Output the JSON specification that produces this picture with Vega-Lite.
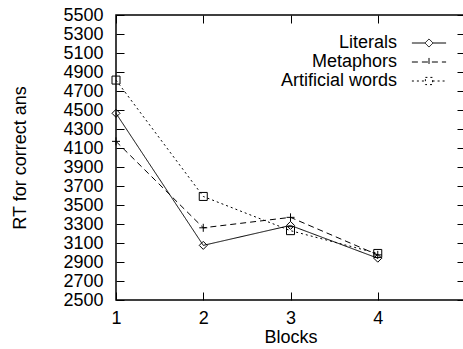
{
  "$schema": "https://vega.github.io/schema/vega-lite/v6.json",
  "width": 349,
  "height": 285,
  "autosize": {"type": "none"},
  "padding": {"left": 116, "top": 15, "right": 0, "bottom": 49},
  "config": {
    "font": "Liberation Sans",
    "view": {"stroke": "black", "strokeWidth": 1.5},
    "axis": {
      "labelFont": "Liberation Sans",
      "labelFontSize": 18,
      "labelColor": "black",
      "titleFont": "Liberation Sans",
      "titleFontSize": 18,
      "titleFontWeight": "normal",
      "titleColor": "black",
      "tickColor": "black",
      "tickSize": -8,
      "tickWidth": 1,
      "domain": false,
      "grid": false
    },
    "legend": {
      "labelFont": "Liberation Sans",
      "labelFontSize": 18,
      "labelColor": "black"
    }
  },
  "data": {
    "values": [
      {"series": "Literals", "block": 1, "rt": 4465},
      {"series": "Literals", "block": 2, "rt": 3075},
      {"series": "Literals", "block": 3, "rt": 3285},
      {"series": "Literals", "block": 4, "rt": 2940},
      {"series": "Metaphors", "block": 1, "rt": 4170},
      {"series": "Metaphors", "block": 2, "rt": 3260},
      {"series": "Metaphors", "block": 3, "rt": 3370},
      {"series": "Metaphors", "block": 4, "rt": 2975},
      {"series": "Artificial words", "block": 1, "rt": 4815},
      {"series": "Artificial words", "block": 2, "rt": 3590},
      {"series": "Artificial words", "block": 3, "rt": 3230},
      {"series": "Artificial words", "block": 4, "rt": 2990}
    ]
  },
  "encoding": {
    "x": {"field": "block", "type": "quantitative", "scale": {"domain": [1, 5], "nice": false, "zero": false}},
    "y": {"field": "rt", "type": "quantitative", "scale": {"domain": [2500, 5500], "nice": false, "zero": false}}
  },
  "layer": [
    {
      "mark": {"type": "line", "color": "black", "strokeWidth": 1},
      "encoding": {
        "x": {
          "field": "block", "type": "quantitative",
          "axis": {"orient": "bottom", "values": [1, 2, 3, 4], "format": "d", "labelPadding": 17, "title": "Blocks", "titlePadding": 1, "labelFlush": false}
        },
        "y": {
          "field": "rt", "type": "quantitative",
          "axis": {"orient": "left", "values": [2500, 2700, 2900, 3100, 3300, 3500, 3700, 3900, 4100, 4300, 4500, 4700, 4900, 5100, 5300, 5500], "format": "d", "labelPadding": 21, "title": "RT for correct ans", "titlePadding": 33, "labelFlush": false}
        },
        "strokeDash": {
          "field": "series", "type": "nominal",
          "scale": {"domain": ["Literals", "Metaphors", "Artificial words"], "range": [[1, 0], [6, 4], [2, 3]]},
          "legend": {
            "orient": "none",
            "legendX": 200,
            "legendY": 19,
            "title": null,
            "padding": 0,
            "labelAlign": "right",
            "labelOffset": -41,
            "symbolOffset": 104,
            "symbolSize": 81,
            "symbolStrokeWidth": 1,
            "symbolStrokeColor": "black",
            "symbolFillColor": "transparent",
            "rowPadding": 1,
            "encode": {
              "symbols": {
                "update": {
                  "shape": {"signal": "datum.value === 'Literals' ? 'M-3.8,0L-0.9,0M0.9,0L3.8,0M0,-0.9L0.9,0L0,0.9L-0.9,0Z' : datum.value === 'Metaphors' ? 'M-3.8,0L3.8,0M0,-0.9L0,0.9' : 'M-3.8,0L-0.8,0M0.8,0L3.8,0M-0.8,-0.8L0.8,-0.8L0.8,0.8L-0.8,0.8Z'"},
                  "fill": {"value": "transparent"},
                  "stroke": {"value": "black"}
                }
              }
            }
          }
        }
      }
    },
    {
      "transform": [{"filter": "datum.series === 'Literals'"}],
      "mark": {"type": "point", "shape": "M0,-1L1,0L0,1L-1,0Z", "filled": false, "color": "black", "size": 64, "strokeWidth": 1, "opacity": 1},
      "encoding": {
        "x": {
          "field": "block", "type": "quantitative",
          "axis": {"orient": "top", "values": [1, 2, 3, 4], "labels": false, "title": null}
        },
        "y": {
          "field": "rt", "type": "quantitative",
          "axis": {"orient": "right", "values": [2500, 2700, 2900, 3100, 3300, 3500, 3700, 3900, 4100, 4300, 4500, 4700, 4900, 5100, 5300, 5500], "labels": false, "title": null}
        }
      }
    },
    {
      "transform": [{"filter": "datum.series === 'Metaphors'"}],
      "mark": {"type": "point", "shape": "M-1,0L1,0M0,-1L0,1", "filled": false, "color": "black", "size": 64, "strokeWidth": 1, "opacity": 1},
      "encoding": {
        "x": {"field": "block", "type": "quantitative", "axis": null},
        "y": {"field": "rt", "type": "quantitative", "axis": null}
      }
    },
    {
      "transform": [{"filter": "datum.series === 'Artificial words'"}],
      "mark": {"type": "point", "shape": "M-1,-1L1,-1L1,1L-1,1Z", "filled": false, "color": "black", "size": 64, "strokeWidth": 1, "opacity": 1},
      "encoding": {
        "x": {"field": "block", "type": "quantitative", "axis": null},
        "y": {"field": "rt", "type": "quantitative", "axis": null}
      }
    }
  ],
  "resolve": {"axis": {"x": "independent", "y": "independent"}}
}
